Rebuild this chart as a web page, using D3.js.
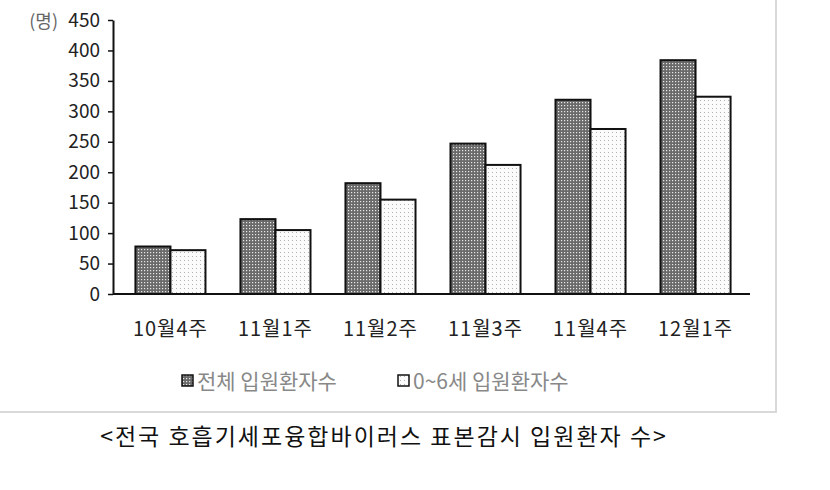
<!DOCTYPE html>
<html><head><meta charset="utf-8">
<script src="https://cdn.jsdelivr.net/npm/d3@7"></script>
<style>body{margin:0;background:#fff}</style>
</head><body>
<script>
var categories = ["10월4주", "11월1주", "11월2주", "11월3주", "11월4주", "12월1주"];
var totalPatients = [78, 123, 182, 247, 319, 384];
var childPatients = [72, 105, 155, 212, 271, 324];
var seriesNames = ["전체 입원환자수", "0~6세 입원환자수"];
var yTicks = [0, 50, 100, 150, 200, 250, 300, 350, 400, 450];

var font = "'Noto Sans CJK KR', sans-serif";
var svg = d3.select("body").append("svg").attr("width", 830).attr("height", 490);

// patterns
var defs = svg.append("defs");
var p1 = defs.append("pattern").attr("id", "dark").attr("width", 3).attr("height", 3).attr("patternUnits", "userSpaceOnUse");
p1.append("rect").attr("width", 3).attr("height", 3).attr("fill", "#6a6a6a");
p1.append("rect").attr("width", 1.2).attr("height", 1.2).attr("fill", "#e8e8e8");
var p2 = defs.append("pattern").attr("id", "light").attr("width", 4).attr("height", 4).attr("patternUnits", "userSpaceOnUse");
p2.append("rect").attr("width", 4).attr("height", 4).attr("fill", "#fbfbfb");
p2.append("rect").attr("width", 1).attr("height", 1).attr("fill", "#b0b0b0");

// frame (chart area border, partially visible)
svg.append("path").attr("d", "M0,412 H776 V0").attr("fill", "none").attr("stroke", "#d9d9d9").attr("stroke-width", 2);

var x = d3.scaleBand().domain(categories).range([118, 748]).paddingInner(0.333).paddingOuter(0.166);
var y = d3.scaleLinear().domain([0, 450]).range([294, 20]);
var xs = d3.scaleBand().domain([0, 1]).range([0, x.bandwidth()]);

var g = svg.append("g");
var series = [totalPatients, childPatients];
var fills = ["url(#dark)", "url(#light)"];
series.forEach(function(vals, s) {
  g.selectAll(null).data(vals).enter().append("rect")
    .attr("x", function(d, i) { return x(categories[i]) + xs(s); })
    .attr("y", function(d) { return y(d); })
    .attr("width", xs.bandwidth())
    .attr("height", function(d) { return y(0) - y(d); })
    .attr("fill", fills[s]).attr("stroke", "#111").attr("stroke-width", 2);
});

// y axis
var ya = svg.append("g").attr("transform", "translate(113,0)")
  .call(d3.axisLeft(y).tickValues(yTicks).tickSize(5).tickSizeOuter(0));
ya.select(".domain").attr("stroke", "#111").attr("stroke-width", 2);
ya.selectAll(".tick line").attr("stroke", "#111").attr("stroke-width", 1.5);
ya.selectAll("text").attr("font-family", font).attr("font-size", 19).attr("fill", "#222").attr("x", -13);

// x axis baseline
svg.append("line").attr("x1", 113).attr("x2", 750).attr("y1", 294).attr("y2", 294).attr("stroke", "#111").attr("stroke-width", 2);
svg.append("g").selectAll("text").data(categories).enter().append("text")
  .attr("x", function(d) { return x(d) + x.bandwidth() / 2; }).attr("y", 336)
  .attr("text-anchor", "middle").attr("font-family", font).attr("font-size", 20).attr("letter-spacing", 1).attr("fill", "#222")
  .text(function(d) { return d; });

svg.append("text").attr("x", 58).attr("y", 28).attr("text-anchor", "end").attr("font-family", font)
  .attr("font-size", 18).attr("fill", "#666").text("(명)");

// legend
var lx = [182, 398];
seriesNames.forEach(function(n, i) {
  svg.append("rect").attr("x", lx[i]).attr("y", 375).attr("width", 11).attr("height", 11)
    .attr("fill", fills[i]).attr("stroke", "#111").attr("stroke-width", 1.5);
  svg.append("text").attr("x", lx[i] + 15).attr("y", 389).attr("font-family", font).attr("font-size", 21)
    .attr("fill", "#888").text(n);
});

svg.append("text").attr("x", 384).attr("y", 445).attr("text-anchor", "middle").attr("font-family", font)
  .attr("font-size", 23).attr("letter-spacing", 2).attr("fill", "#111").text("<전국 호흡기세포융합바이러스 표본감시 입원환자 수>");
</script>
</body></html>
